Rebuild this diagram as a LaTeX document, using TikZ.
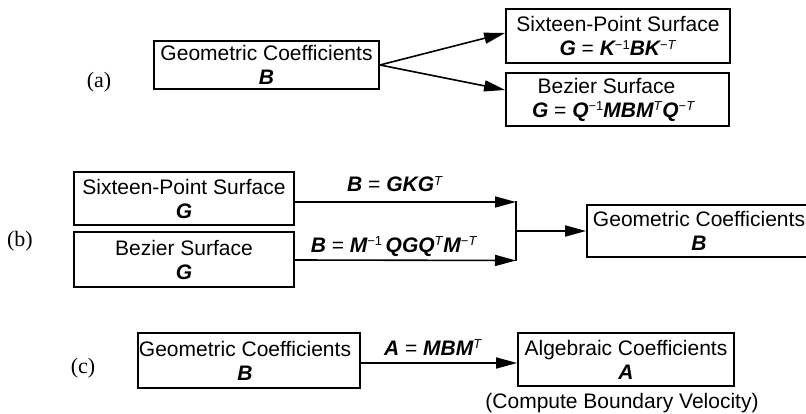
\documentclass[tikz,border=0pt]{standalone}
\usepackage{fontspec}
\setsansfont{Liberation Sans}
\newfontfamily\partfont{Liberation Serif}
\usetikzlibrary{arrows.meta}
% bold italic matrix symbols and raised exponents
\newcommand\mb[1]{{\bfseries\itshape #1}}
\newcommand\upx[1]{\raisebox{6.5pt}{\fontsize{13}{13}\selectfont #1}}
\begin{document}
\begin{tikzpicture}[x=1pt,y=-1pt,
  box/.style={draw, line width=1.8pt, align=center, inner sep=0pt,
    font=\sffamily\fontsize{21}{24}\selectfont},
  conn/.style={line width=1.6pt},
  arr/.style={conn, -{Triangle[length=21pt,width=11pt]}},
  formula/.style={font=\sffamily\fontsize{21}{24}\selectfont, inner sep=0pt, anchor=base},
  partlabel/.style={font=\partfont\fontsize{22}{24}\selectfont, inner sep=0pt}]
\useasboundingbox (0,0) rectangle (806,414);
\clip (0,0) rectangle (806,414);

% (a) geometric coefficients to the two surface forms
\node[partlabel] (la) at (99,82) {(a)};
\node[box, minimum width=225pt, minimum height=48pt] (ga) at (266.5,65)
  {Geometric Coefficients\\ \mb{B}};
\node[box, minimum width=224pt, minimum height=54pt] (sa) at (618,36)
  {Sixteen-Point Surface\\ \mb{G} = \mb{K}\upx{−1}\mb{BK}\upx{−\textit{T}}};
\node[box, minimum width=223pt, minimum height=53pt] (ba) at (617.5,99.5)
  {Bezier Surface\hspace*{22pt}\\ \mb{G} = \mb{Q}\upx{−1}\mb{MBM}\upx{\textit{T}}\mb{Q}\upx{−\textit{T}}\hspace*{8pt}};
\draw[arr] (ga.east) -- ([yshift=3pt]sa.west);
\draw[arr] (ga.east) -- ([yshift=9.5pt]ba.west);

% (b) the two surface forms back to geometric coefficients
\node[partlabel] (lb) at (20,241) {(b)};
\node[box, minimum width=220pt, minimum height=53pt] (sb) at (184,198.5)
  {Sixteen-Point Surface\\ \mb{G}};
\node[box, minimum width=220pt, minimum height=55pt] (bb) at (184,259.5)
  {Bezier Surface\\ \mb{G}};
\node[box, minimum width=224pt, minimum height=52pt] (gb) at (699,231)
  {Geometric Coefficients\\ \mb{B}};
\coordinate (jt) at (516,202);
\coordinate (jb) at (516,260.5);
\coordinate (jm) at (516,231);
\draw[arr] ([yshift=-3.5pt]sb.east) -- (jt);
\draw[arr] ([yshift=-0.5pt]bb.east) -- (jb);
\draw[conn] ([yshift=0.8pt]jt) -- ([yshift=-0.8pt]jb);
\draw[arr] (jm) -- (gb.west);
\node[formula] (fb1) at (395,192) {\mb{B} = \mb{GKG}\upx{\textit{T}}};
\node[formula] (fb2) at (394,252)
  {\mb{B} = \mb{M}\upx{−1}\,\mb{QGQ}\upx{\textit{T}}\mb{M}\upx{−\textit{T}}};

% (c) geometric to algebraic coefficients
\node[partlabel] (lc) at (83,368) {(c)};
\node[box, minimum width=222pt, minimum height=55pt] (gc) at (249,360.5)
  {Geometric Coefficients\hspace*{8pt}\\ \mb{B}\hspace*{8pt}};
\node[box, minimum width=216pt, minimum height=53pt] (ac) at (626,359.5)
  {Algebraic Coefficients\\ \mb{A}};
\draw[arr] ([yshift=-2.5pt]gc.east) -- ([yshift=-2.5pt]gc.east -| ac.west);
\node[formula] (fc) at (433,355) {\mb{A} = \mb{MBM}\upx{\textit{T}}};
\node[formula] (note) at (622,408) {(Compute Boundary Velocity)};
\end{tikzpicture}
\end{document}
